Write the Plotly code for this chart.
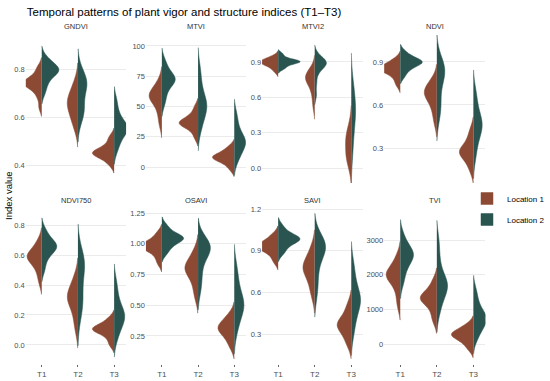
import numpy as np
import plotly.graph_objects as go

# ---------------- data ----------------
TIMES = ["T1", "T2", "T3"]
LOCATIONS = ["Location 1", "Location 2"]
INDEX_NAMES = ["GNDVI", "MTVI", "MTVI2", "NDVI", "NDVI750", "OSAVI", "SAVI", "TVI"]

# sample values per location, one list per time point (T1, T2, T3)
GNDVI_L1 = [[0.64, 0.68, 0.70, 0.72, 0.73, 0.73, 0.74, 0.74, 0.75, 0.75, 0.76, 0.77, 0.79, 0.81],
            [0.55, 0.58, 0.60, 0.62, 0.64, 0.65, 0.66, 0.67, 0.68, 0.70, 0.72, 0.75],
            [0.40, 0.42, 0.43, 0.44, 0.445, 0.45, 0.45, 0.455, 0.46, 0.47, 0.48, 0.50, 0.52]]
GNDVI_L2 = [[0.70, 0.73, 0.75, 0.77, 0.78, 0.79, 0.79, 0.80, 0.80, 0.81, 0.82, 0.83, 0.85],
            [0.58, 0.61, 0.62, 0.63, 0.64, 0.67, 0.70, 0.72, 0.73, 0.74, 0.74, 0.75, 0.76, 0.78, 0.80],
            [0.46, 0.49, 0.51, 0.53, 0.54, 0.55, 0.55, 0.56, 0.57, 0.58, 0.60, 0.63, 0.67]]

MTVI_L1 = [[35, 42, 48, 52, 55, 57, 58, 59, 60, 62, 64, 67, 72],
           [24, 29, 32, 34, 35, 36, 37, 37, 38, 40, 42, 45, 50],
           [-2, 2, 4, 6, 7, 8, 8, 9, 10, 12, 14, 17]]
MTVI_L2 = [[52, 58, 63, 67, 70, 71, 72, 73, 74, 76, 79, 83, 88],
           [30, 36, 41, 45, 48, 50, 51, 53, 56, 60, 66, 74, 82],
           [5, 9, 13, 16, 18, 20, 21, 22, 24, 27, 31, 37, 44]]

MTVI2_L1 = [[0.82, 0.85, 0.87, 0.88, 0.89, 0.90, 0.90, 0.91, 0.92, 0.93, 0.95],
            [0.52, 0.60, 0.66, 0.70, 0.73, 0.75, 0.76, 0.77, 0.78, 0.80, 0.82, 0.85],
            [0.00, 0.05, 0.09, 0.11, 0.13, 0.17, 0.21, 0.24, 0.26, 0.28, 0.32, 0.38]]
MTVI2_L2 = [[0.84, 0.86, 0.88, 0.89, 0.90, 0.90, 0.91, 0.91, 0.92, 0.94, 0.97],
            [0.62, 0.72, 0.80, 0.84, 0.86, 0.88, 0.89, 0.89, 0.90, 0.91, 0.93, 0.96],
            [0.10, 0.19, 0.28, 0.35, 0.40, 0.44, 0.47, 0.50, 0.53, 0.57, 0.62, 0.68, 0.74]]

NDVI_L1 = [[0.74, 0.78, 0.81, 0.83, 0.84, 0.85, 0.85, 0.86, 0.87, 0.88, 0.90, 0.92],
           [0.48, 0.55, 0.60, 0.64, 0.66, 0.68, 0.69, 0.70, 0.72, 0.75, 0.78],
           [0.14, 0.19, 0.22, 0.25, 0.26, 0.27, 0.28, 0.29, 0.31, 0.34, 0.38, 0.43]]
NDVI_L2 = [[0.80, 0.84, 0.86, 0.88, 0.89, 0.90, 0.90, 0.91, 0.92, 0.94, 0.97],
           [0.52, 0.56, 0.59, 0.64, 0.72, 0.78, 0.81, 0.83, 0.84, 0.85, 0.86, 0.88, 0.92],
           [0.23, 0.30, 0.36, 0.40, 0.43, 0.45, 0.46, 0.48, 0.50, 0.53, 0.58, 0.64, 0.70]]

NDVI750_L1 = [[0.42, 0.48, 0.52, 0.55, 0.57, 0.58, 0.59, 0.60, 0.61, 0.63, 0.66, 0.70],
              [0.10, 0.16, 0.22, 0.26, 0.29, 0.31, 0.32, 0.33, 0.35, 0.38, 0.42, 0.46],
              [0.00, 0.04, 0.07, 0.09, 0.10, 0.10, 0.11, 0.12, 0.13, 0.15, 0.18]]
NDVI750_L2 = [[0.50, 0.56, 0.60, 0.62, 0.64, 0.65, 0.66, 0.67, 0.68, 0.70, 0.73, 0.77],
              [0.18, 0.24, 0.28, 0.30, 0.33, 0.40, 0.47, 0.51, 0.53, 0.55, 0.56, 0.58, 0.62],
              [0.04, 0.09, 0.13, 0.16, 0.18, 0.19, 0.20, 0.22, 0.25, 0.29, 0.35, 0.42]]

OSAVI_L1 = [[0.84, 0.89, 0.93, 0.95, 0.97, 0.98, 0.98, 0.99, 1.00, 1.02, 1.05, 1.09],
            [0.56, 0.63, 0.69, 0.74, 0.77, 0.79, 0.80, 0.81, 0.83, 0.86, 0.90, 0.95],
            [0.16, 0.21, 0.25, 0.28, 0.30, 0.31, 0.32, 0.34, 0.36, 0.39, 0.43]]
OSAVI_L2 = [[0.92, 0.96, 0.99, 1.01, 1.03, 1.04, 1.05, 1.05, 1.06, 1.08, 1.11, 1.15],
            [0.62, 0.70, 0.78, 0.86, 0.91, 0.94, 0.96, 0.97, 0.98, 0.99, 1.01, 1.05],
            [0.28, 0.35, 0.41, 0.45, 0.48, 0.50, 0.51, 0.53, 0.56, 0.61, 0.67, 0.74, 0.82]]

SAVI_L1 = [[0.82, 0.86, 0.89, 0.91, 0.92, 0.93, 0.93, 0.94, 0.95, 0.97, 0.99, 1.02],
           [0.57, 0.63, 0.68, 0.72, 0.75, 0.77, 0.78, 0.79, 0.81, 0.84, 0.88, 0.93],
           [0.22, 0.26, 0.30, 0.33, 0.35, 0.36, 0.37, 0.38, 0.40, 0.43, 0.47, 0.52]]
SAVI_L2 = [[0.88, 0.91, 0.94, 0.96, 0.97, 0.98, 0.99, 0.99, 1.00, 1.02, 1.04, 1.08],
           [0.58, 0.66, 0.74, 0.82, 0.87, 0.90, 0.92, 0.93, 0.94, 0.95, 0.97, 1.01],
           [0.30, 0.37, 0.43, 0.48, 0.51, 0.53, 0.55, 0.56, 0.58, 0.62, 0.67, 0.74, 0.81]]

TVI_L1 = [[1100, 1400, 1650, 1800, 1900, 1960, 2000, 2040, 2100, 2200, 2350, 2550],
          [650, 850, 1050, 1180, 1260, 1300, 1330, 1360, 1420, 1520, 1650, 1850],
          [-150, 0, 100, 180, 230, 260, 290, 330, 380, 460, 570]]
TVI_L2 = [[1750, 2000, 2200, 2350, 2450, 2520, 2570, 2620, 2680, 2780, 2920, 3150],
          [900, 1150, 1350, 1500, 1600, 1660, 1710, 1760, 1850, 2000, 2250, 2600, 3000],
          [150, 320, 450, 560, 640, 700, 740, 780, 850, 950, 1100, 1300, 1550]]

# y tick labels per panel
GNDVI_TICKS = [0.4, 0.6, 0.8]
MTVI_TICKS = [0, 25, 50, 75, 100]
MTVI2_TICKS = [0.0, 0.3, 0.6, 0.9]
NDVI_TICKS = [0.3, 0.6, 0.9]
NDVI750_TICKS = [0.0, 0.2, 0.4, 0.6, 0.8]
OSAVI_TICKS = [0.25, 0.50, 0.75, 1.00, 1.25]
SAVI_TICKS = [0.3, 0.6, 0.9, 1.2]
TVI_TICKS = [0, 1000, 2000, 3000]

# ---------------- style ----------------
W, H = 550, 381
COLORS = {"Location 1": "#8C4A35", "Location 2": "#2A5450"}
FONT = "Liberation Sans, Arial, sans-serif"
TICK_FMT = {"GNDVI": "{:.1f}", "MTVI": "{:.0f}", "MTVI2": "{:.1f}", "NDVI": "{:.1f}",
            "NDVI750": "{:.1f}", "OSAVI": "{:.2f}", "SAVI": "{:.1f}", "TVI": "{:.0f}"}
COL_PX = [(26, 127), (147, 248), (264, 366), (387, 489)]
ROW_PX = [(35, 183), (206, 364)]
Y_RANGES = {"GNDVI": [0.325, 0.942], "MTVI": [-13.2, 109], "MTVI2": [-0.127, 1.129],
            "NDVI": [0.056, 1.088], "NDVI750": [-0.127, 0.927], "OSAVI": [0.022, 1.307],
            "SAVI": [0.084, 1.222], "TVI": [-577, 3981]}
X_RANGE = [-0.44, 2.33]
WMAX = 1.2
WEXP = 0.85

panels = [
    ("GNDVI", GNDVI_L1, GNDVI_L2, GNDVI_TICKS),
    ("MTVI", MTVI_L1, MTVI_L2, MTVI_TICKS),
    ("MTVI2", MTVI2_L1, MTVI2_L2, MTVI2_TICKS),
    ("NDVI", NDVI_L1, NDVI_L2, NDVI_TICKS),
    ("NDVI750", NDVI750_L1, NDVI750_L2, NDVI750_TICKS),
    ("OSAVI", OSAVI_L1, OSAVI_L2, OSAVI_TICKS),
    ("SAVI", SAVI_L1, SAVI_L2, SAVI_TICKS),
    ("TVI", TVI_L1, TVI_L2, TVI_TICKS),
]


def kde_peak(vals):
    v = np.asarray(vals, dtype=float)
    n = len(v)
    sd = v.std(ddof=1)
    q1, q3 = np.percentile(v, [25, 75])
    a = min(sd, (q3 - q1) / 1.349) if q3 > q1 else sd
    bw = 1.059 * a * n ** -0.2
    grid = np.linspace(v.min() - 2 * bw, v.max() + 2 * bw, 400)
    dens = np.exp(-0.5 * ((grid[:, None] - v[None, :]) / bw) ** 2).sum(axis=1) / (n * bw * np.sqrt(2 * np.pi))
    return dens.max()


fig = go.Figure()
layout = {}
annotations = []

for p, (name, l1, l2, ticks) in enumerate(panels):
    row, col = divmod(p, 4)
    suf = "" if p == 0 else str(p + 1)
    groups = []
    for loc, series in ((LOCATIONS[0], l1), (LOCATIONS[1], l2)):
        for t, vals in zip(TIMES, series):
            groups.append((loc, t, vals))
    peaks = [kde_peak(v) for _, _, v in groups]
    pmax = max(peaks)
    for (loc, t, vals), pk in zip(groups, peaks):
        fig.add_trace(go.Violin(
            x=[t] * len(vals), y=vals,
            xaxis="x" + suf, yaxis="y" + suf,
            side="negative" if loc == LOCATIONS[0] else "positive",
            width=WMAX * (pk / pmax) ** WEXP, scalemode="width", spanmode="soft",
            fillcolor=COLORS[loc], line=dict(color=COLORS[loc], width=0.5),
            opacity=1, points=False, name=loc, legendgroup=loc,
            showlegend=(p == 0 and t == "T1"), hoveron="violins",
        ))
    x0, x1 = COL_PX[col]
    y0, y1 = ROW_PX[row]
    layout["xaxis" + suf] = dict(
        domain=[x0 / W, x1 / W], anchor="y" + suf, type="category",
        categoryorder="array", categoryarray=TIMES, range=X_RANGE,
        showgrid=False, zeroline=False, showline=False,
        showticklabels=(row == 1), ticks="outside" if row == 1 else "",
        ticklen=2, tickwidth=1, tickcolor="#666666",
        tickfont=dict(size=8, color="#4d4d4d", family=FONT),
    )
    layout["yaxis" + suf] = dict(
        domain=[1 - y1 / H, 1 - y0 / H], anchor="x" + suf,
        range=Y_RANGES[name], tickvals=ticks,
        ticktext=[TICK_FMT[name].format(v) for v in ticks],
        showgrid=True, gridcolor="#EBEBEB", gridwidth=1, zeroline=False,
        showline=False, ticks="",
        tickfont=dict(size=7.5, color="#4d4d4d", family=FONT),
    )
    annotations.append(dict(
        text=name, xref="paper", yref="paper",
        x=(x0 + x1) / 2 / W, y=1 - (26 if row == 0 else 200) / H,
        xanchor="center", yanchor="middle", showarrow=False,
        font=dict(size=7.5, color="#333333", family=FONT),
    ))

annotations.append(dict(
    text="Index value", xref="paper", yref="paper", x=8 / W, y=1 - 195 / H,
    textangle=-90, xanchor="center", yanchor="middle", showarrow=False,
    font=dict(size=9.5, color="#000000", family=FONT),
))

fig.update_layout(
    **layout,
    width=W, height=H,
    margin=dict(l=0, r=0, t=0, b=0),
    paper_bgcolor="white", plot_bgcolor="white",
    violinmode="overlay",
    font=dict(family=FONT),
    title=dict(text="Temporal patterns of plant vigor and structure indices (T1\u2013T3)",
               x=27 / W, xref="paper", xanchor="left",
               y=1 - 12 / H, yref="paper", yanchor="middle",
               font=dict(size=11.5, color="#000000", family=FONT)),
    legend=dict(x=1.008, y=1 - 184 / H, xanchor="right", yanchor="top",
                itemwidth=30, font=dict(size=8, color="#000000", family=FONT),
                bgcolor="rgba(0,0,0,0)", tracegroupgap=2),
    annotations=annotations,
    showlegend=True,
)

fig.write_html("out.html", config={"displayModeBar": False},
               post_script="document.body.style.margin='0';document.body.style.padding='0';")
